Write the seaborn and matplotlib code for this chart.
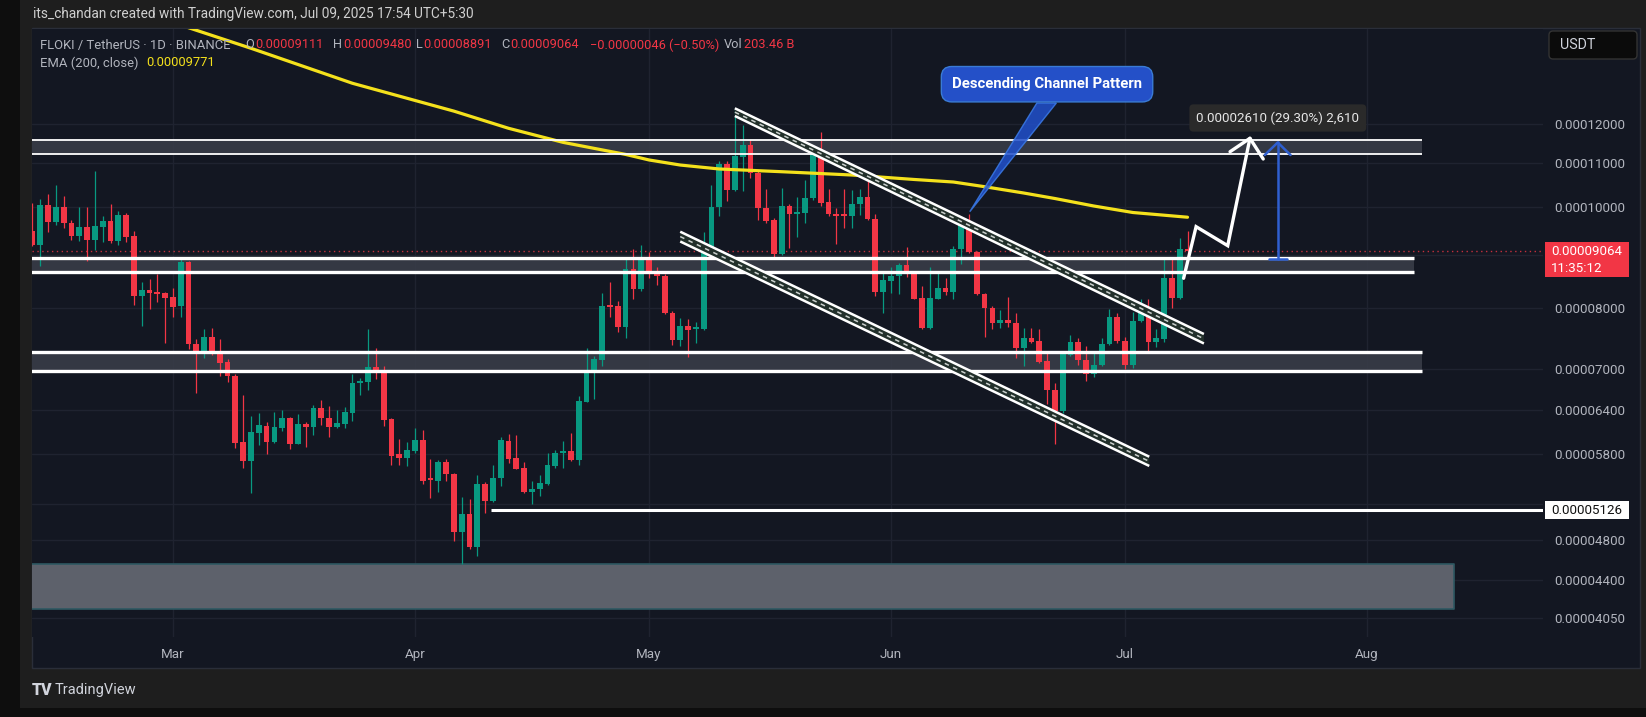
import numpy as np
import pandas as pd
import matplotlib
matplotlib.use("Agg")
import matplotlib.pyplot as plt
import matplotlib.dates as mdates
from matplotlib.patches import Polygon, Rectangle, FancyBboxPatch
from matplotlib.transforms import IdentityTransform
from matplotlib.ticker import FixedLocator, NullLocator, FixedFormatter
import seaborn as sns

W, H, DPI = 1646, 717, 100
TICK = 1e-8  # all prices below are in units of 0.00000001 USDT

# FLOKI / USDT daily candles, starting 2025-02-11
START = "2025-02-11"
OPEN = [9479, 9192, 10031, 9663, 10000, 9655, 9383, 9564, 9288, 9571,
        9691, 9274, 9814, 9376, 8216, 8325, 8289, 8276, 8199, 8042,
        8854, 7393, 7259, 7508, 7259, 7106, 6894, 5954, 5718, 6082,
        6173, 5962, 6149, 6283, 5937, 6200, 6163, 6422, 6288, 6163,
        6200, 6356, 6790, 6796, 7033, 6967, 6269, 5804, 5756, 5842,
        5985, 5485, 5473, 5706, 5557, 4892, 5086, 4733, 5429, 5233,
        5502, 5972, 5748, 5624, 5338, 5370, 5433, 5653, 5812, 5842,
        5727, 6512, 6971, 7137, 8025, 8038, 7680, 8713, 8343, 8926,
        8622, 8589, 7920, 7458, 7691, 7640, 7636, 9157, 9987, 10986,
        10374, 11164, 11451, 10776, 9978, 9712, 9010, 10022, 9835, 9870,
        10187, 11245, 10098, 9835, 9813, 9798, 10058, 10223, 9727, 8283,
        8497, 8586, 8796, 8648, 8174, 7653, 8162, 8355, 8293, 9110,
        9676, 9058, 8253, 8002, 7735, 7801, 7735, 7333, 7496, 7442,
        7121, 6681, 6384, 7216, 7430, 7137, 6920, 7059, 7388, 7845,
        7446, 7059, 7776, 7937, 7430, 7469, 8541, 8186, 9111]
HIGH = [10082, 10171, 10284, 10489, 10245, 9712, 10000, 9993, 10816, 9798,
        10053, 9906, 9857, 9473, 8467, 8529, 8624, 8289, 8362, 8958,
        8879, 7475, 7636, 7661, 7470, 7148, 6921, 6604, 6315, 6348,
        6224, 6362, 6394, 6301, 6338, 6224, 6469, 6536, 6451, 6394,
        6432, 6926, 6856, 7636, 7324, 7044, 6287, 5994, 5959, 6145,
        6118, 5736, 5727, 5736, 5570, 5283, 5253, 5542, 5460, 5665,
        6029, 6064, 6051, 5698, 5473, 5538, 5820, 5855, 5972, 6082,
        6593, 7324, 7200, 8265, 8479, 8132, 8945, 9110, 9192, 9058,
        8763, 8622, 7950, 7822, 7805, 7764, 9465, 10489, 11061, 11061,
        12417, 11957, 11578, 10840, 10390, 9748, 10413, 10053, 10222, 10604,
        11285, 11791, 10397, 9963, 10390, 10374, 10390, 10763, 9841, 8648,
        8763, 8829, 9157, 8667, 8399, 8763, 8648, 8541, 9176, 9748,
        9841, 9080, 8270, 8035, 7967, 8198, 7910, 7653, 7653, 7636,
        7242, 6790, 7280, 7541, 7496, 7361, 7242, 7486, 7979, 7910,
        7512, 7938, 8156, 8156, 7636, 8905, 8949, 9339, 9480]
LOW = [9172, 8783, 9465, 9606, 9549, 9300, 9280, 8880, 9097, 9247,
       9239, 9192, 9253, 8050, 7697, 7990, 8103, 7414, 7850, 7850,
       7312, 6633, 7173, 7216, 6891, 6796, 5877, 5631, 5327, 5916,
       5799, 5950, 6104, 5872, 5929, 5898, 6051, 6186, 6029, 6141,
       6141, 6245, 6608, 6686, 6845, 6173, 5661, 5669, 5653, 5816,
       5433, 5265, 5342, 5469, 4793, 4556, 4709, 4637, 5094, 5220,
       5413, 5686, 5610, 5323, 5199, 5295, 5421, 5631, 5631, 5720,
       5665, 6500, 6550, 7048, 7850, 7596, 7486, 8162, 8312, 8541,
       8417, 7897, 7377, 7360, 7179, 7405, 7620, 9105, 9798, 10126,
       10358, 10358, 10644, 9712, 9642, 8926, 8990, 9137, 9362, 9655,
       10148, 10022, 9798, 9213, 9536, 9536, 9820, 9712, 8216, 7920,
       8265, 8253, 8571, 8156, 7636, 7640, 8156, 8235, 8162, 8810,
       9026, 8240, 7508, 7636, 7657, 7674, 7173, 7040, 7405, 7094,
       6475, 5929, 6348, 7205, 7059, 6815, 6880, 7044, 7377, 7405,
       6993, 7009, 7764, 7268, 7348, 7430, 7997, 8170, 8891]
CLOSE = [9192, 10031, 9663, 10000, 9642, 9383, 9564, 9288, 9585, 9691,
         9274, 9814, 9362, 8216, 8325, 8276, 8258, 8186, 8025, 8854,
         7388, 7259, 7508, 7259, 7095, 6894, 5949, 5718, 6087, 6182,
         5962, 6163, 6283, 5937, 6200, 6163, 6422, 6279, 6163, 6214,
         6362, 6790, 6811, 7033, 6962, 6255, 5782, 5756, 5855, 5985,
         5473, 5481, 5706, 5557, 4892, 5086, 4733, 5429, 5233, 5502,
         5985, 5743, 5619, 5338, 5377, 5441, 5661, 5820, 5842, 5727,
         6526, 6982, 7148, 8038, 8020, 7680, 8713, 8343, 8926, 8617,
         8589, 7920, 7458, 7691, 7624, 7650, 9157, 10000, 10986, 10374,
         11180, 11451, 10776, 9978, 9691, 9010, 10022, 9835, 9870, 10187,
         11245, 10089, 9835, 9798, 9798, 10058, 10208, 9727, 8283, 8510,
         8586, 8796, 8635, 8162, 7653, 8174, 8355, 8293, 9110, 9676,
         9058, 8253, 7994, 7735, 7801, 7735, 7333, 7496, 7430, 7110,
         6681, 6384, 7226, 7430, 7137, 6920, 7059, 7388, 7845, 7446,
         7059, 7776, 7937, 7430, 7486, 8541, 8186, 9110, 9064]

# EMA(200) at a few days (day offset from START)
EMA_DAY = [17, 28, 41, 54, 61, 68, 76, 79, 83, 88, 96, 105, 113, 118, 122, 127, 131, 136, 141, 148]
EMA_VAL = [15080, 14170, 13120, 12340, 11883, 11520, 11219, 11083, 10960, 10865, 10800,
           10722, 10617, 10558, 10450, 10306, 10182, 10015, 9873, 9771]

PRICE_TICKS = [4050, 4400, 4800, 5200, 5800, 6400, 7000, 8000, 9000, 10000, 11000, 12000]
HIDDEN_TICKS = [5200, 9000]   # labels covered by the price tags
MONTHS = ["2025-03-01", "2025-04-01", "2025-05-01", "2025-06-01", "2025-07-01", "2025-08-01"]
MONTH_LABELS = ["Mar", "Apr", "May", "Jun", "Jul", "Aug"]

# drawn zones: (low, high, last day)
ZONE_TOP = (11222, 11578, 178.0)
ZONE_MID = (8668, 8938, 177.0)
ZONE_LOW = (6971, 7257, 178.0)
ZONE_DEMAND = (4127, 4556, 182.1)
SUPPORT, SUPPORT_FROM = 5126, 58.8
LAST_PRICE = 9064

# channel rails: (day0, day1, price0, price1)
UPPER_RAIL = [(90.0, 150.1, 12417, 7557), (90.0, 150.1, 12209, 7401)]
LOWER_RAIL = [(83.0, 143.1, 9465, 5769), (83.0, 143.1, 9263, 5653)]

# projected path and measured move
PATH_DAY = [147.5, 149.1, 153.15, 156.0]
PATH_VAL = [8543, 9570, 9178, 11624]
MOVE_DAY, MOVE_FROM, MOVE_TO = 159.56, 8908, 11518

BG = "#1e1e1e"
PANEL = "#131722"
GRID = "#1f2330"
UP = "#089981"
DOWN = "#f23645"
LABEL = "#b2b5be"
FS = 9.6

sns.set_theme(style="dark")
plt.rcParams["font.family"] = ["Roboto", "DejaVu Sans"]

base = mdates.date2num(pd.Timestamp(START))


def day(d):
    return base + np.asarray(d, dtype=float)


def px(v):
    return np.asarray(v, dtype=float) * TICK


fig = plt.figure(figsize=(W / DPI, H / DPI), dpi=DPI, facecolor=BG)
# screenshot frame
fig.add_artist(Rectangle((0, 0), 20, H, transform=IdentityTransform(), fc="#0e0e0e", ec="none", zorder=-10))
fig.add_artist(Rectangle((0, 0), W, 9, transform=IdentityTransform(), fc="#0e0e0e", ec="none", zorder=-10))
fig.add_artist(Rectangle((32, H - 668), 1608, 640, transform=IdentityTransform(),
                         fc=PANEL, ec="#2a2e39", lw=1, zorder=-9))

ax = fig.add_axes([32 / W, 1 - 637 / H, (1543 - 32) / W, (637 - 29) / H])
ax.set_facecolor(PANEL)
ax.set_yscale("log")
ax.set_xlim(day(-0.06), day(193.55))
ax.set_ylim(px(3880), px(14784))

# grid + ticks
month_x = mdates.date2num(pd.to_datetime(MONTHS))
ax.xaxis.set_major_locator(FixedLocator(month_x))
ax.xaxis.set_major_formatter(FixedFormatter(MONTH_LABELS))
ax.yaxis.set_major_locator(FixedLocator(px(PRICE_TICKS)))
ax.yaxis.set_major_formatter(FixedFormatter(
    ["" if v in HIDDEN_TICKS else f"{v * TICK:.8f}" for v in PRICE_TICKS]))
ax.yaxis.set_minor_locator(NullLocator())
ax.xaxis.set_minor_locator(NullLocator())
ax.yaxis.tick_right()
ax.grid(True, color=GRID, lw=1)
ax.tick_params(axis="y", length=0, pad=8, labelcolor=LABEL, labelsize=FS)
ax.tick_params(axis="x", length=0, pad=8, labelcolor=LABEL, labelsize=FS)
for s in ax.spines.values():
    s.set_visible(False)

# zones
far_left = day(-10)
for lo, hi, end in [ZONE_TOP, ZONE_MID, ZONE_LOW]:
    ax.fill_between([far_left, day(end)], px(lo), px(hi), color="#3a3e49", alpha=0.85, lw=0, zorder=1.5)
lw_zone = {ZONE_TOP: 1.3, ZONE_MID: 2.4, ZONE_LOW: 2.4}
for z, lw in lw_zone.items():
    ax.hlines(px([z[0], z[1]]), far_left, day(z[2]), color="white", lw=lw, zorder=6)
ax.fill_between([far_left, day(ZONE_DEMAND[2])], px(ZONE_DEMAND[0]), px(ZONE_DEMAND[1]),
                color="#5d616b", lw=1.2, edgecolor="#2e5862", zorder=2)
ax.hlines(px(SUPPORT), day(SUPPORT_FROM), day(200), color="white", lw=2.2, zorder=6)
ax.axhline(px(LAST_PRICE), color=DOWN, ls=(0, (1, 2.5)), lw=1, alpha=0.8, zorder=2)

# candles
dates = pd.date_range(START, periods=len(OPEN), freq="D")
x = mdates.date2num(dates)
o, h, l, c = px(OPEN), px(HIGH), px(LOW), px(CLOSE)
colors = np.where(c >= o, UP, DOWN)
ax.vlines(x, l, h, colors=colors, lw=0.9, zorder=4)
b_lo = np.minimum(o, c)
b_hi = np.maximum(np.maximum(o, c), b_lo * 1.004)
ax.bar(x, b_hi - b_lo, bottom=b_lo, width=0.74, color=colors, lw=0, zorder=4.5)

# EMA 200
sns.lineplot(x=day(EMA_DAY), y=px(EMA_VAL), ax=ax, color="#f4e11c", lw=2.3, zorder=5, sort=False)

# descending channel rails
for rails in (UPPER_RAIL, LOWER_RAIL):
    (d0, d1, a0, a1), (_, _, b0, b1) = rails
    ax.add_patch(Polygon([(day(d0), px(a0)), (day(d1), px(a1)), (day(d1), px(b1)), (day(d0), px(b0))],
                         closed=True, fc="#22302b", ec="none", zorder=6))
    for (e0, e1, p0, p1) in rails:
        ax.plot(day([e0, e1]), px([p0, p1]), color="white", lw=1.8, zorder=7, solid_capstyle="butt")
    mid0, mid1 = np.sqrt(a0 * b0), np.sqrt(a1 * b1)
    ax.plot(day([d0, d1]), px([mid0, mid1]), color="#c9cfcc", lw=1.1, ls=(0, (3, 3)), zorder=7)

# callout
ax.add_patch(Polygon([(day(128.7), px(12563)), (day(131.2), px(12563)), (day(120.1), px(9890))],
                     closed=True, fc="#2150cc", ec="#3b7be8", lw=1, alpha=0.85, zorder=8))
ax.text(day(130.0), px(13093), "Descending Channel Pattern", ha="center", va="center",
        fontsize=10.7, fontweight="bold", color="white", zorder=9,
        bbox=dict(boxstyle="round,pad=0.72,rounding_size=0.7", fc="#2450c8", ec="#3a7bd5", lw=1))

# projected path
ax.plot(day(PATH_DAY), px(PATH_VAL), color="white", lw=2.4, zorder=9, solid_joinstyle="miter")
ax.plot(day([153.45, PATH_DAY[-1], 157.7]), px([11286, PATH_VAL[-1], 11107]), color="white", lw=2.4, zorder=9)

# measured move
blue = "#2f5fd0"
ax.plot(day([MOVE_DAY, MOVE_DAY]), px([MOVE_FROM, MOVE_TO]), color=blue, lw=1.8, zorder=9)
ax.plot(day([157.9, MOVE_DAY, 161.2]), px([11205, MOVE_TO, 11205]), color=blue, lw=1.8, zorder=9)
ax.plot(day([158.4, 160.7]), px([MOVE_FROM, MOVE_FROM]), color=blue, lw=1.8, zorder=9)
gain = MOVE_TO - MOVE_FROM
ax.text(day(159.57), px(12155), f"{gain * TICK:.8f} ({gain / MOVE_FROM * 100:.2f}%) {gain:,}",
        ha="center", va="center", fontsize=FS, color="#e6e6e6", zorder=9,
        bbox=dict(boxstyle="round,pad=0.52,rounding_size=0.3", fc="#2a2a2a", ec="none"))


# price tags on the axis
def price_tag(price, lines, fc, tc):
    y = ax.transData.transform((ax.get_xlim()[0], px(price)))[1]
    top = y + 9
    bottom = y - 9 - 17 * (len(lines) - 1)
    fig.add_artist(Rectangle((1545, bottom), 84, top - bottom, transform=IdentityTransform(),
                             fc=fc, ec="none", zorder=20))
    for k, s in enumerate(lines):
        fig.text(1551 / W, (y - 17 * k) / H, s, color=tc, fontsize=FS, va="center", ha="left", zorder=21)


price_tag(LAST_PRICE, [f"{LAST_PRICE * TICK:.8f}", "11:35:12"], DOWN, "white")
price_tag(SUPPORT, [f"{SUPPORT * TICK:.8f}"], "white", "#111111")

fig.add_artist(FancyBboxPatch((1549, H - 59), 88, 28, boxstyle="round,pad=0,rounding_size=4",
                              transform=IdentityTransform(), fc="#0b0b0b", ec="#333333", lw=1, zorder=20))
fig.text(1560 / W, 1 - 45 / H, "USDT", color="#d1d4dc", fontsize=10.3, va="center", ha="left", zorder=21)

# header texts
fig.text(33 / W, 1 - 14 / H, "its_chandan created with TradingView.com, Jul 09, 2025 17:54 UTC+5:30",
         color="#d0d0d0", fontsize=9.8, va="center", ha="left")

renderer = fig.canvas.get_renderer()


def text_run(x0, y0, parts, size=9.2):
    xx = x0
    for s, col, gap in parts:
        t = fig.text(xx / W, 1 - y0 / H, s, color=col, fontsize=size, va="center", ha="left", zorder=12)
        xx = t.get_window_extent(renderer).x1 + gap


# legend groups, each starting where the reference has it
text_run(40, 45, [("FLOKI / TetherUS · 1D · BINANCE", LABEL, 0)], size=9.4)
for x0, key, val in [(245, "O", "0.00009111"), (333, "H", "0.00009480"),
                     (416, "L", "0.00008891"), (501, "C", "0.00009064")]:
    text_run(x0, 45, [(key, LABEL, 1), (val, DOWN, 0)])
text_run(590, 45, [("−0.00000046 (−0.50%)", DOWN, 0)])
text_run(724, 45, [("Vol", LABEL, 1), ("203.46 B", DOWN, 0)])
text_run(40, 63, [("EMA (200, close)", LABEL, 8), (f"{EMA_VAL[-1] * TICK:.8f}", "#f4e11c", 0)], size=9.4)

# footer logo
fig.text(32 / W, 1 - 690 / H, "TV", color="#d1d4dc", fontsize=11.5, fontweight="black", va="center", ha="left")
fig.text(55 / W, 1 - 690 / H, "TradingView", color="#d1d4dc", fontsize=10.5, va="center", ha="left")

fig.savefig("out.png", dpi=DPI, facecolor=BG)
